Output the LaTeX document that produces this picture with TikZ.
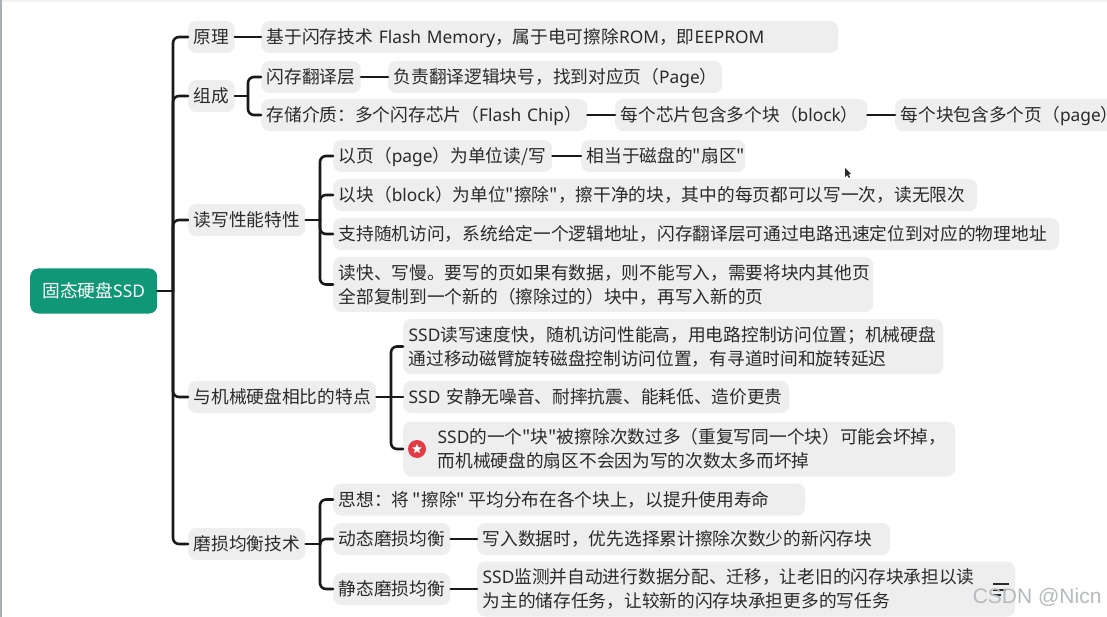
\documentclass[tikz,border=0pt]{standalone}
\usepackage{fontspec}
\newfontfamily\mmfont{Noto Sans CJK SC}
\newfontfamily\enfont[Scale=0.98]{Noto Sans}
\newfontfamily\markfont{Liberation Sans}
\newcommand\en[1]{{\enfont #1}}
\usepackage{xcolor}
\usetikzlibrary{shapes.geometric}
\definecolor{mmRoot}{HTML}{0F9777}
\definecolor{mmInk}{HTML}{2A2A2A}
\definecolor{mmFill}{HTML}{EEEEEE}
\definecolor{mmBadge}{HTML}{E23B45}
\definecolor{mmMark}{HTML}{A9AEB3}
\tikzset{
  mm diagram/.style={x=1pt,y=-1pt,text=mmInk,line cap=round,line join=round},
  mm box/.style={fill=mmFill, rounded corners=8pt, anchor=west, align=left,
    inner xsep=5.5pt, inner ysep=2pt, minimum height=32pt,
    text height=17.4pt, text depth=4pt,
    font=\mmfont\fontsize{17.7}{24}\selectfont},
  mm wide/.style={mm box, text width=#1pt},
  mm lines/.style={mm wide=#1, text depth=28pt, minimum height=55pt},
  mm root/.style={mm box, fill=mmRoot, text=white, minimum width=127pt,
    minimum height=45pt, align=center},
  mm link/.style={draw=black!90, line width=2.6pt, rounded corners=6pt},
  mm badge/.style={circle, fill=mmBadge, minimum size=18pt, inner sep=0pt},
  mm star/.style={star, star points=5, star point ratio=2.2, fill=white,
    minimum size=10pt, inner sep=0pt},
  mm mark/.style={font=\markfont\fontsize{21}{24}\selectfont, text=mmMark!85, anchor=east}
}
\begin{document}
\begin{tikzpicture}[mm diagram]
\clip (0,0) rectangle (1107,617);
\fill[white] (0,0) rectangle (1107,617);
\fill[mmFill!70] (0,0) rectangle (1107,2);
\fill[mmMark] (0,0) rectangle (1.5,617);
% first level
\node[mm root] (ssd) at (30,291) {固态硬盘\en{SSD}};
\node[mm box] (principle) at (188,37) {原理};
\node[mm box] (parts) at (188,96) {组成};
\node[mm box] (rwperf) at (188,220) {读写性能特性};
\node[mm box] (compare) at (188,397) {与机械硬盘相比的特点};
\node[mm box] (wear) at (188,544) {磨损均衡技术};
% principle and parts
\node[mm wide=566] (flash) at (261,37) {基于闪存技术 \en{Flash Memory}，属于电可擦除\en{ROM}，即\en{EEPROM}};
\node[mm box] (ftl) at (261,77) {闪存翻译层};
\node[mm wide=323] (ftlnote) at (388,77) {负责翻译逻辑块号，找到对应页（\en{Page}）};
\node[mm wide=315] (medium) at (261,115) {存储介质：多个闪存芯片（\en{\mbox{Flash Chip}}）};
\node[mm wide=241] (chip) at (615,115) {每个芯片包含多个块（\en{block}）};
\node[mm wide=229] (block) at (895,115) {每个块包含多个页（\en{page}）};
% read and write
\node[mm wide=208] (pagerw) at (333,156) {以页（\en{page}）为单位读/写};
\node[mm wide=153] (sector) at (581,156) {相当于磁盘的"扇区"};
\node[mm wide=633] (erase) at (333,195) {以块（\en{block}）为单位"擦除"，擦干净的块，其中的每页都可以写一次，读无限次};
\node[mm wide=715] (random) at (333,234) {支持随机访问，系统给定一个逻辑地址，闪存翻译层可通过电路迅速定位到对应的物理地址};
\node[mm lines=529] (slowwrite) at (333,284.5) {读快、写慢。要写的页如果有数据，则不能写入，需要将块内其他页\\全部复制到一个新的（擦除过的）块中，再写入新的页};
% compared with hard disk
\node[mm lines=529] (speed) at (403,346.5) {\en{SSD}读写速度快，随机访问性能高，用电路控制访问位置；机械硬盘\\通过移动磁臂旋转磁盘控制访问位置，有寻道时间和旋转延迟};
\node[mm wide=375] (quiet) at (403,397) {\en{SSD} 安静无噪音、耐摔抗震、能耗低、造价更贵};
\node[mm lines=541] (worn) at (403,449) {\hspace*{29pt}\en{SSD}的一个"块"被擦除次数过多（重复写同一个块）可能会坏掉，\\\hspace*{29pt}而机械硬盘的扇区不会因为写的次数太多而坏掉};
\node[mm badge] (badge) at (417,449) {};
\node[mm star] (badgestar) at (badge) {};
% wear levelling
\node[mm wide=461] (idea) at (333,499.5) {\spaceskip=3.5pt 思想：将 "擦除" 平均分布在各个块上，以提升使用寿命};
\node[mm box] (dynamic) at (333,539) {动态磨损均衡};
\node[mm wide=402] (dynnote) at (477,539) {写入数据时，优先选择累计擦除次数少的新闪存块};
\node[mm box] (static) at (333,589) {静态磨损均衡};
\node[mm lines=527] (statnote) at (477,589) {\en{SSD}监测并自动进行数据分配、迁移，让老旧的闪存块承担以读\\为主的储存任务，让较新的闪存块承担更多的写任务};
% connectors
\coordinate (ssdjoin) at (173,291);
\coordinate (partsjoin) at (248,96);
\coordinate (rwjoin) at (320,220);
\coordinate (cmpjoin) at (391,397);
\coordinate (wearjoin) at (320,544);
\draw[mm link] (ssd.east) -- (ssdjoin);
\foreach \n in {principle,parts,rwperf,compare,wear}
  \draw[mm link] (ssdjoin) |- (\n.west);
\draw[mm link] (parts.east) -- (partsjoin);
\foreach \n in {ftl,medium}
  \draw[mm link] (partsjoin) |- (\n.west);
\draw[mm link] (rwperf.east) -- (rwjoin);
\foreach \n in {pagerw,erase,random,slowwrite}
  \draw[mm link] (rwjoin) |- (\n.west);
\draw[mm link] (compare.east) -- (quiet.west);
\foreach \n in {speed,worn}
  \draw[mm link] (cmpjoin) |- (\n.west);
\draw[mm link] (wear.east) -- (wearjoin);
\foreach \n in {idea,dynamic,static}
  \draw[mm link] (wearjoin) |- (\n.west);
\foreach \a/\b in {principle/flash,ftl/ftlnote,medium/chip,chip/block,pagerw/sector,dynamic/dynnote,static/statnote}
  \draw[mm link] (\a.east) -- (\b.west);
% screen marks
\fill[mmInk] (845,168) -- (845,177) -- (847,175) -- (849,178) -- (850,177) -- (848.5,174.5) -- (851,174) -- cycle;
\foreach \y/\w in {583/16,589/13,594/8}
  \fill[mmInk] (993,\y) rectangle ++(\w,1.6);
\node[mm mark] (csdn) at (1105,597) {CSDN @Nicn};
\end{tikzpicture}
\end{document}
